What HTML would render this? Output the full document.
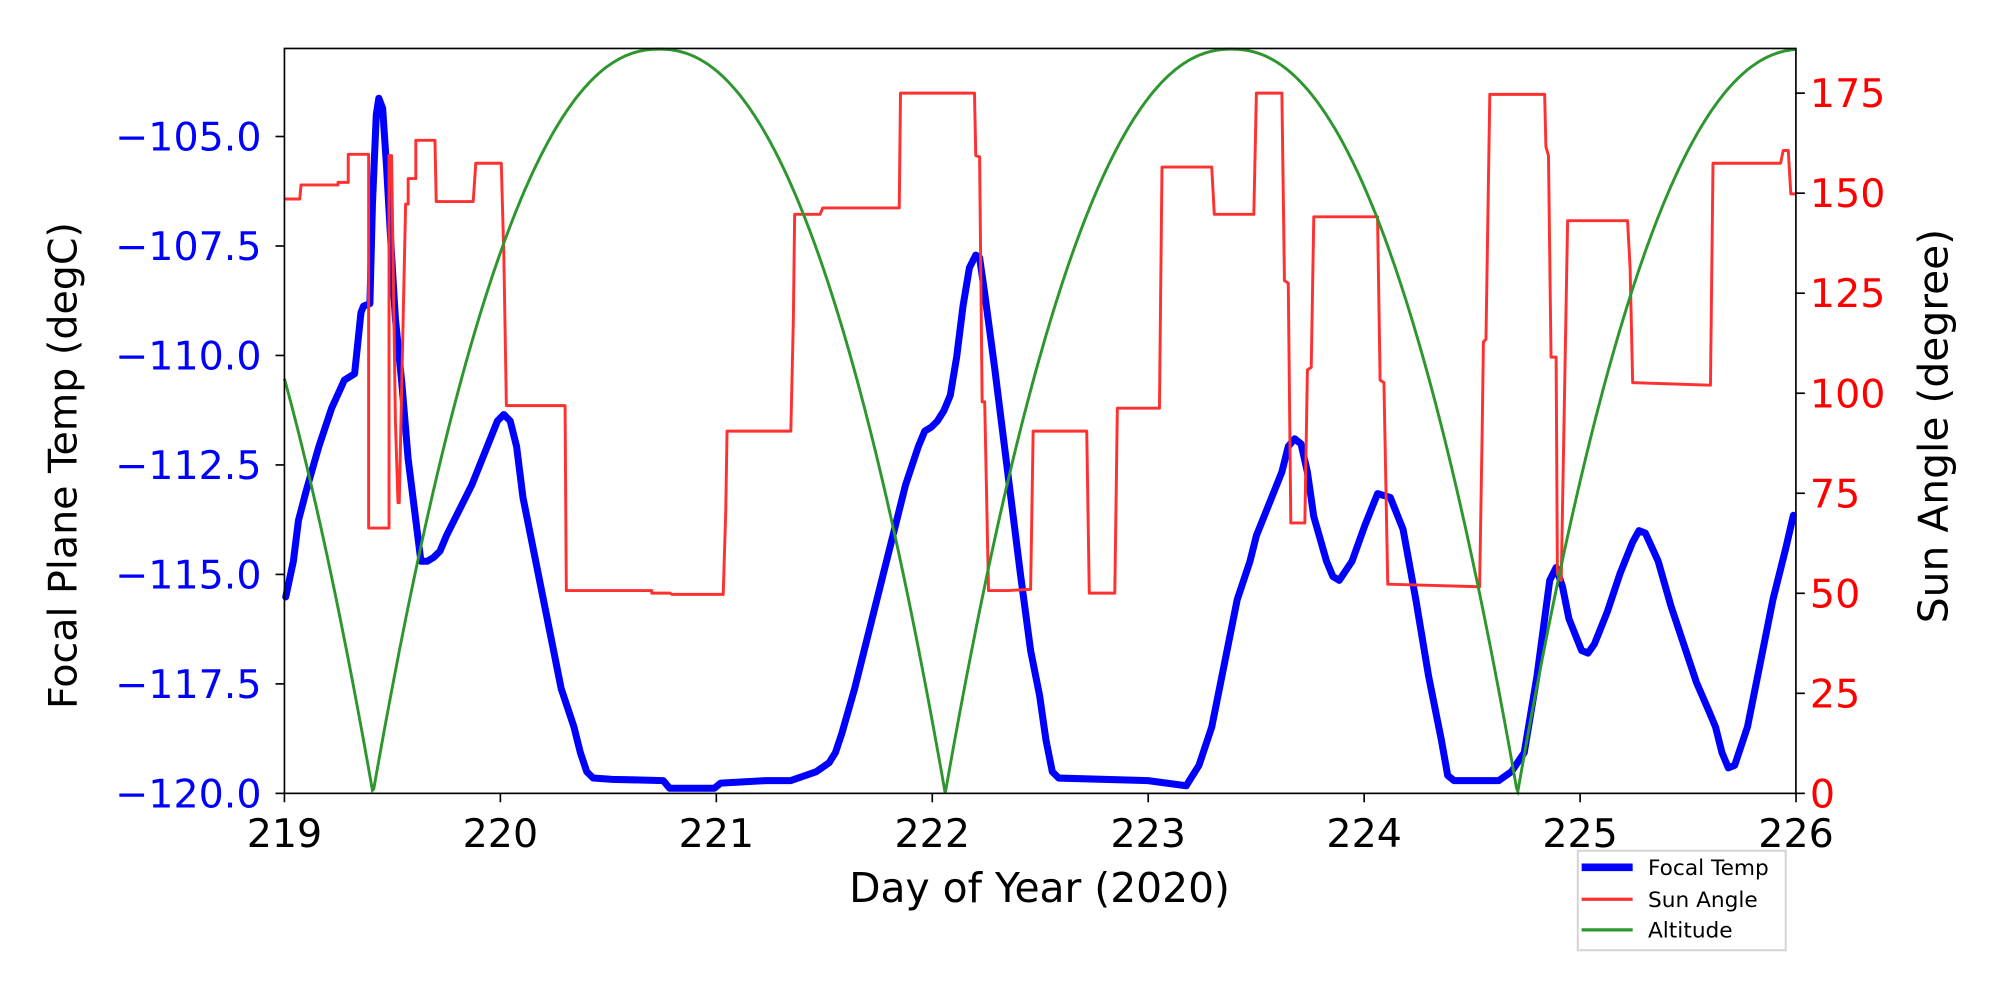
<!DOCTYPE html>
<html><head><meta charset="utf-8"><style>html,body{margin:0;padding:0;background:#fff}svg{display:block}text{font-family:"DejaVu Sans","Liberation Sans",sans-serif}</style></head>
<body>
<svg id="s" width="2000" height="1000" viewBox="0 0 1568 784" xmlns="http://www.w3.org/2000/svg">
<rect width="1568" height="784" fill="#fff"/>
<g id="plot"></g>
<rect x="223" y="38" width="1185" height="584" fill="none" stroke="#000" stroke-width="1.3"/>
<g id="ticks" font-size="31"></g>
<text x="815" y="707" font-size="32" text-anchor="middle">Day of Year (2020)</text>
<text transform="translate(60,365) rotate(-90)" font-size="31" text-anchor="middle">Focal Plane Temp (degC)</text>
<text transform="translate(1527,334) rotate(-90)" font-size="32" text-anchor="middle">Sun Angle (degree)</text>
<g>
<rect x="1237" y="667" width="163" height="78" fill="#fff" stroke="#d5d5d5" stroke-width="1.6"/>
<line x1="1240" y1="680" x2="1280" y2="680" stroke="#0000ff" stroke-width="6"/>
<line x1="1240" y1="705" x2="1280" y2="705" stroke="#ff3030" stroke-width="2.5"/>
<line x1="1240" y1="729" x2="1280" y2="729" stroke="#2e962e" stroke-width="2.5"/>
<text x="1292" y="686" font-size="17">Focal Temp</text>
<text x="1292" y="711" font-size="17">Sun Angle</text>
<text x="1292" y="735" font-size="17">Altitude</text>
</g>
</svg>
<script>
var NS="http://www.w3.org/2000/svg";
function el(n,a,p){var e=document.createElementNS(NS,n);for(var k in a)e.setAttribute(k,a[k]);(p||document.getElementById('plot')).appendChild(e);return e;}
var g=[];for(var x=223;x<=1408;x+=1){var d=219+(x-223)/169.3;var t=((d-219.41)%2.65+2.65)%2.65;var f=t<=1.325?t/1.325:(2.65-t)/1.325;var a=186*(1-Math.pow(1-f,2.2));g.push(x+","+(622-a*3.137).toFixed(1));}
var blue="224,468 230,440 234,408 240,385 250,350 260,320 270,298 278,293 283,245 285,240 290,238 292,160 295,90 297,77 300,85 303,130 307,200 310,250 315,300 320,360 325,400 330,440 335,440 340,437 345,432 350,420 360,400 370,380 380,355 390,330 395,325 400,330 405,350 410,390 420,440 430,490 440,540 450,570 455,590 460,605 465,610 480,611 520,612 525,618 560,618 565,614 600,612 620,612 640,605 650,598 655,590 660,575 670,540 680,500 690,460 700,420 710,380 720,350 725,338 730,335 735,330 740,322 745,310 750,280 755,240 760,210 765,200 768,202 772,230 780,290 790,370 800,450 808,510 815,545 820,580 825,605 830,610 900,612 930,616 935,608 940,600 950,570 960,520 970,470 980,440 985,420 995,395 1005,370 1010,350 1015,344 1020,348 1025,370 1030,405 1040,440 1045,452 1050,455 1060,440 1070,412 1080,387 1090,390 1100,415 1110,470 1120,530 1130,580 1135,608 1140,612 1175,612 1185,605 1195,590 1205,530 1215,455 1220,445 1225,460 1230,485 1240,510 1245,512 1250,505 1260,480 1270,450 1280,425 1285,416 1290,418 1300,440 1310,475 1320,505 1330,535 1340,558 1345,570 1350,590 1355,602 1360,600 1370,570 1380,520 1390,470 1400,430 1406,404";
var red="223,156 235,156 236,145 265,145 265,143 273,143 273,121 289,121 289,414 305,414 305,122 307,122 310,330 312,394 313,394 315,300 318,160 320,160 320,140 326,140 326,110 341,110 342,158 371,158 373,128 393,128 395,200 397,318 443,318 444,463 511,463 511,465 525,465 527,466 567,466 569,400 570,338 620,338 622,250 623,168 643,168 645,163 705,163 706,73 764,73 765,122 768,123 770,315 772,315 775,463 790,463 808,462 810,338 852,338 854,465 874,465 876,320 909,320 911,131 950,131 952,168 983,168 985,73 1005,73 1007,220 1010,222 1012,410 1023,410 1025,290 1028,288 1030,170 1080,170 1082,298 1085,300 1088,458 1160,460 1162,340 1163,268 1165,266 1168,74 1211,74 1212,115 1214,122 1216,280 1220,280 1221,450 1224,455 1229,173 1276,173 1278,210 1280,300 1341,302 1343,128 1396,128 1398,118 1402,118 1404,152 1408,152";
el('polyline',{points:blue,fill:'none',stroke:'#0000ff','stroke-width':5.5,'stroke-linejoin':'round','stroke-linecap':'round'});
el('polyline',{points:red,fill:'none',stroke:'#ff3030','stroke-width':2.3,'stroke-linejoin':'round'});
el('polyline',{points:g.join(' '),fill:'none',stroke:'#2e962e','stroke-width':2.3});
var T=document.getElementById('ticks');
var ll=['\u2212120.0','\u2212117.5','\u2212115.0','\u2212112.5','\u2212110.0','\u2212107.5','\u2212105.0'];
for(var i=0;i<7;i++){var y=622-i*85.83;el('line',{x1:216,y1:y,x2:223,y2:y,stroke:'#000','stroke-width':1.3},T);var t=el('text',{x:205,y:y+11,fill:'#0000ff','text-anchor':'end'},T);t.textContent=ll[i];}
for(var i=0;i<8;i++){var y=622-i*25*3.137;el('line',{x1:1408,y1:y,x2:1415,y2:y,stroke:'#000','stroke-width':1.3},T);var t=el('text',{x:1419,y:y+11,fill:'#ff0000'},T);t.textContent=i*25;}
for(var i=0;i<8;i++){var x=223+i*169.3;el('line',{x1:x,y1:622,x2:x,y2:629,stroke:'#000','stroke-width':1.3},T);var t=el('text',{x:x,y:664,'text-anchor':'middle'},T);t.textContent=219+i;}
</script>
</body></html>
